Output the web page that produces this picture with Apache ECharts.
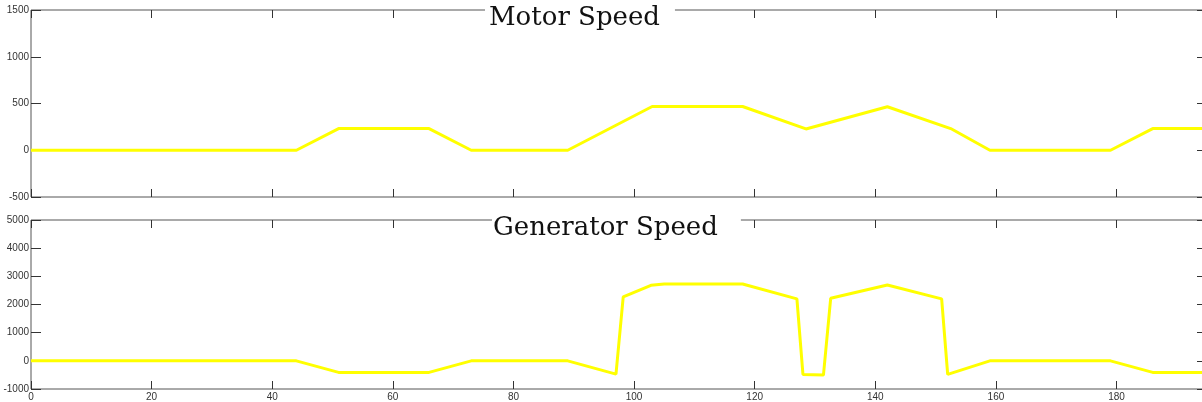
<!DOCTYPE html>
<html><head><meta charset="utf-8">
<script src="https://cdn.jsdelivr.net/npm/echarts@6/dist/echarts.min.js"></script>
<style>html,body{margin:0;padding:0;background:#fff;overflow:hidden}#c{width:1210px;height:402px}</style>
</head><body><div id="c"></div>
<script>
// Motor speed (top panel)
const motorTime  = [0, 44, 51, 66, 73, 89, 103, 118, 128.5, 142, 152.5, 159, 179, 186, 195];
const motorSpeed = [0, 0, 232, 232, 0, 0, 468, 468, 228, 465, 232, 0, 0, 232, 232];
// Generator speed (bottom panel)
const genTime  = [0, 44, 51, 66, 73, 89, 97, 98.2, 102.8, 105, 118, 127, 128, 131.4, 132.6, 142, 151, 152, 159, 179, 186, 195];
const genSpeed = [0, 0, -411, -411, 0, 0, -470, 2270, 2680, 2727, 2727, 2200, -481, -505, 2220, 2690, 2200, -481, 0, 0, -411, -411];
// Tick labels
const timeTicks  = [0, 20, 40, 60, 80, 100, 120, 140, 160, 180];
const motorTicks = [-500, 0, 500, 1000, 1500];
const genTicks   = [-1000, 0, 1000, 2000, 3000, 4000, 5000];
const xMax = 195;

const pairs = (xs, ys) => xs.map((x, i) => [x, ys[i]]);
const labelStyle = {color: '#333', fontSize: 10, fontFamily: 'Liberation Sans, Arial, sans-serif', formatter: v => String(v)};
const step = a => a[1] - a[0];

function xAx(grid, pos, showLabels) {
  return {
    type: 'value', gridIndex: grid, position: pos,
    min: timeTicks[0], max: xMax, interval: step(timeTicks),
    axisLine: {show: false, onZero: false},
    axisTick: {show: true, inside: true, length: 8, lineStyle: {color: '#333'}},
    axisLabel: {show: showLabels, margin: 3, showMaxLabel: false, ...labelStyle},
    splitLine: {show: false}
  };
}
function yAx(grid, pos, ticks, showLabels, len) {
  return {
    type: 'value', gridIndex: grid, position: pos,
    min: ticks[0], max: ticks[ticks.length - 1], interval: step(ticks),
    axisLine: {show: false, onZero: false},
    axisTick: {show: true, inside: true, length: len, lineStyle: {color: '#333'}},
    axisLabel: {show: showLabels, margin: 2, ...labelStyle},
    splitLine: {show: false}
  };
}

const chart = echarts.init(document.getElementById('c'));
chart.setOption({
  backgroundColor: '#fff',
  animation: false,
  title: [
    {text: 'Motor Speed', left: 485, top: 2, padding: [3, 15, 3, 4], backgroundColor: '#fff',
     textStyle: {fontFamily: 'DejaVu Serif', fontSize: 26, fontWeight: 'normal', color: '#111'}},
    {text: 'Generator Speed', left: 492, top: 212, padding: [3, 23, 3, 1], backgroundColor: '#fff',
     textStyle: {fontFamily: 'DejaVu Serif', fontSize: 26, fontWeight: 'normal', color: '#111'}}
  ],
  grid: [
    {left: 31, top: 10, width: 1176, height: 187, show: true, borderColor: '#555', borderWidth: 1, backgroundColor: 'transparent'},
    {left: 31, top: 220, width: 1176, height: 170, show: true, borderColor: '#555', borderWidth: 1, backgroundColor: 'transparent'}
  ],
  xAxis: [xAx(0, 'bottom', false), xAx(0, 'top', false), xAx(1, 'bottom', true), xAx(1, 'top', false)],
  yAxis: [yAx(0, 'left', motorTicks, true, 10), yAx(0, 'right', motorTicks, false, 10),
          yAx(1, 'left', genTicks, true, 10), yAx(1, 'right', genTicks, false, 10)],
  series: [
    {type: 'line', xAxisIndex: 0, yAxisIndex: 0, data: pairs(motorTime, motorSpeed), symbol: 'none',
     lineStyle: {color: '#ffff00', width: 3}, z: 3},
    {type: 'line', xAxisIndex: 2, yAxisIndex: 2, data: pairs(genTime, genSpeed), symbol: 'none',
     lineStyle: {color: '#ffff00', width: 3}, z: 3}
  ]
});
</script></body></html>
